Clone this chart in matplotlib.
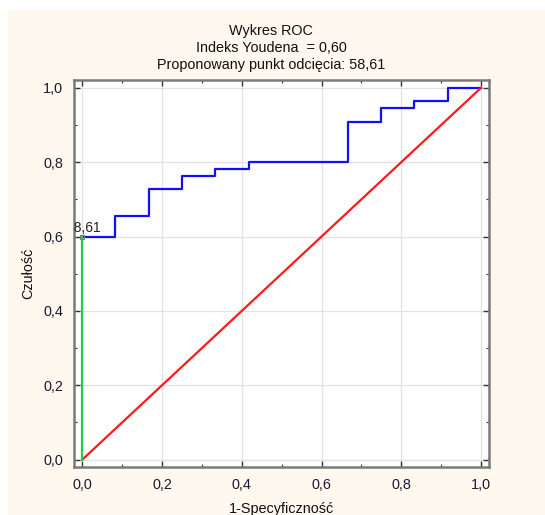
import matplotlib
matplotlib.use("Agg")
import matplotlib.pyplot as plt
from matplotlib.patches import Rectangle
from matplotlib.ticker import MultipleLocator, FuncFormatter

# ---- data ----
fpr = [0.0, 0.083, 0.167, 0.25, 0.333, 0.417, 0.667, 0.75, 0.833, 0.917, 1.0]
tpr = [0.600, 0.655, 0.727, 0.764, 0.782, 0.800, 0.909, 0.945, 0.964, 1.0, 1.0]
diag_x = [0.0, 1.0]
diag_y = [0.0, 1.0]
cut_x = [0.0, 0.0]
cut_y = [0.0, 0.600]
cut_label = "58,61"
title_lines = ["Wykres ROC", "Indeks Youdena  = 0,60", "Proponowany punkt odcięcia: 58,61"]
xlabel = "1-Specyficzność"
ylabel = "Czułość"

plt.rcParams['font.family'] = ['Liberation Sans', 'DejaVu Sans']

fig = plt.figure(figsize=(5.45, 5.15), dpi=100, facecolor='white')
bg = Rectangle((8/545, 0), 1 - 8/545, 1 - 10/515, transform=fig.transFigure,
               facecolor='#FEF8EE', edgecolor='none', zorder=-10)
fig.patches.append(bg)

ax = fig.add_axes([74/545, 1 - 467/515, (489 - 74)/545, (467 - 80)/515])
ax.set_facecolor('white')

ax.grid(True, which='major', color='#E2E2E2', linewidth=0.9)
ax.set_axisbelow(True)

ax.plot(fpr, tpr, drawstyle='steps-post', color='#1010FF', linewidth=1.6, zorder=3)
ax.plot(diag_x, diag_y, color='#FF1A1A', linewidth=1.6, zorder=4)
ax.plot(cut_x, cut_y, color='#22CC44', linewidth=1.6, zorder=5)
ax.plot([cut_x[1]], [cut_y[1]], marker='s', markersize=3.5, markerfacecolor='none',
        markeredgecolor='#777777', markeredgewidth=0.8, zorder=6)
t = ax.text(cut_x[1] - 0.04, cut_y[1] + 0.003, cut_label, fontsize=10, color='#222222',
            ha='left', va='bottom', zorder=7, clip_on=True)

ax.set_xlim(-0.021, 1.02)
ax.set_ylim(-0.02, 1.021)

ax.xaxis.set_major_locator(MultipleLocator(0.2))
ax.yaxis.set_major_locator(MultipleLocator(0.2))
ax.xaxis.set_minor_locator(MultipleLocator(0.1))
ax.yaxis.set_minor_locator(MultipleLocator(0.1))
fmt = FuncFormatter(lambda v, p: f"{v:.1f}".replace('.', ','))
ax.xaxis.set_major_formatter(fmt)
ax.yaxis.set_major_formatter(fmt)

ax.tick_params(which='both', direction='in', top=True, right=True, color='#333333',
               labelsize=10.4, labelcolor='#1a1a33')
ax.tick_params(which='major', length=4, width=1.0, pad=8)
ax.tick_params(which='minor', length=2.5, width=0.8)

for s in ax.spines.values():
    s.set_color('#7a7a7a')
    s.set_linewidth(1.8)

ax.set_xlabel(xlabel, fontsize=10.4, labelpad=7, color='#111111')
ax.set_ylabel(ylabel, fontsize=10.4, labelpad=5.5, color='#111111')

for i, line in enumerate(title_lines):
    fig.text(271/545, 1 - (31.5 + i*16.5)/515, line, ha='center', va='center',
             fontsize=10.4, color='#111111')

fig.savefig("out.png", dpi=100, facecolor=fig.get_facecolor())
